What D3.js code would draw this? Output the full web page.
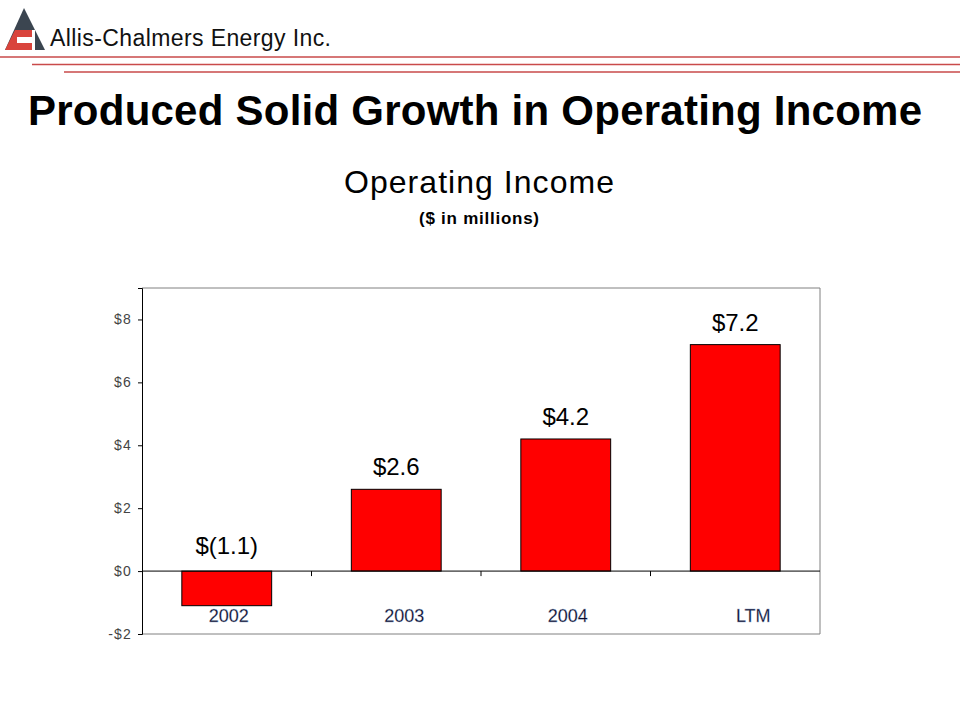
<!DOCTYPE html>
<html><head><meta charset="utf-8">
<script src="https://cdn.jsdelivr.net/npm/d3@7"></script>
<style>body{margin:0;background:#fff}svg{display:block;font-family:"Liberation Sans",Arial,sans-serif}</style>
</head><body>
<svg id="c" width="960" height="720"></svg>
<script>
const categories = ["2002", "2003", "2004", "LTM"];
const values = [-1.1, 2.6, 4.2, 7.2];
const valueLabels = ["$(1.1)", "$2.6", "$4.2", "$7.2"];
const yTicks = [-2, 0, 2, 4, 6, 8];
const yTickLabels = ["-$2", "$0", "$2", "$4", "$6", "$8"];

const svg = d3.select("#c");

// header lines
const lines = [{y:57,x0:0},{y:64.5,x0:32},{y:72,x0:64}];
svg.selectAll("line.hdr").data(lines).join("line")
  .attr("x1", d => d.x0).attr("x2", 960).attr("y1", d => d.y).attr("y2", d => d.y)
  .attr("stroke", "#c94a4a").attr("stroke-width", 1.3);

// logo
const logo = svg.append("g");
logo.append("path").attr("d", "M24,8 L45,50 L5,50 Z").attr("fill", "#3b4550");
logo.append("path").attr("d", "M15,30 L32,30 L32,50 L5,50 Z").attr("fill", "#d9443c");
logo.append("path").attr("d", "M17,37 L32,37 L32,43 L17,43 Z").attr("fill", "#fff");
logo.append("path").attr("d", "M32,30 L35,30 L35,50 L32,50 Z").attr("fill", "#fff");
svg.append("text").attr("x", 50).attr("y", 46).attr("font-size", 23).attr("fill", "#111")
  .attr("textLength", 281).attr("lengthAdjust", "spacing")
  .text("Allis-Chalmers Energy Inc.");

// titles
svg.append("text").attr("x", 28).attr("y", 125)
  .attr("font-size", 42).attr("font-weight", "bold").attr("fill", "#000")
  .attr("textLength", 894).attr("lengthAdjust", "spacing")
  .text("Produced Solid Growth in Operating Income");
svg.append("text").attr("x", 344).attr("y", 193)
  .attr("font-size", 32).attr("fill", "#000")
  .attr("textLength", 270).attr("lengthAdjust", "spacing").text("Operating Income");
svg.append("text").attr("x", 419).attr("y", 224)
  .attr("font-size", 17).attr("font-weight", "bold").attr("fill", "#000")
  .attr("textLength", 120).attr("lengthAdjust", "spacing").text("($ in millions)");

// chart
const L = 142, R = 820, T = 288, B = 634;
const x = d3.scaleBand().domain(categories).range([L, R]).paddingInner(0.47).paddingOuter(0.235);
const xb = d3.scaleBand().domain(categories).range([L, R]);
const y = d3.scaleLinear().domain([-2, 9]).range([B, T]);

// frame
svg.append("path").attr("d", `M${L},${T} H${R} V${B} H${L}`).attr("fill", "none")
  .attr("stroke", "#808080").attr("stroke-width", 1);

// bars
svg.selectAll("rect.bar").data(values).join("rect")
  .attr("x", (d, i) => x(categories[i])).attr("width", x.bandwidth())
  .attr("y", d => y(Math.max(0, d))).attr("height", d => Math.abs(y(d) - y(0)))
  .attr("fill", "#ff0000").attr("stroke", "#000").attr("stroke-width", 1);

// zero line
svg.append("line").attr("x1", L).attr("x2", R).attr("y1", y(0)).attr("y2", y(0))
  .attr("stroke", "#000").attr("stroke-width", 1);
// category ticks at boundaries
svg.selectAll("line.ct").data(categories.slice(1)).join("line")
  .attr("x1", d => xb(d)).attr("x2", d => xb(d)).attr("y1", y(0)).attr("y2", y(0) + 5)
  .attr("stroke", "#000");

// y axis
const yAxis = d3.axisLeft(y).tickValues(yTicks).tickSize(4).tickPadding(6)
  .tickFormat((d, i) => yTickLabels[i]);
const ga = svg.append("g").attr("transform", `translate(${L},0)`).call(yAxis);
ga.select(".domain").attr("stroke", "#000");
ga.selectAll("text").attr("font-size", 14).attr("fill", "#444").attr("letter-spacing", "1.2px")
  .attr("font-family", "'Liberation Sans',Arial,sans-serif");

// value labels
svg.selectAll("text.vl").data(values).join("text")
  .attr("x", (d, i) => x(categories[i]) + x.bandwidth() / 2)
  .attr("y", d => d < 0 ? y(0) - 17 : y(d) - 14)
  .attr("text-anchor", "middle").attr("font-size", 24).attr("fill", "#000")
  .text((d, i) => valueLabels[i]);

// category labels
const catOffsets = [2, 8, 2, 18];
svg.selectAll("text.cl").data(categories).join("text")
  .attr("x", (d, i) => xb(d) + xb.bandwidth() / 2 + catOffsets[i])
  .attr("y", y(0) + 51)
  .attr("text-anchor", "middle").attr("font-size", 18).attr("fill", "#0a0a2a")
  .attr("stroke", "#9ab0d0").attr("stroke-width", 0.3)
  .text(d => d);
</script>
</body></html>
